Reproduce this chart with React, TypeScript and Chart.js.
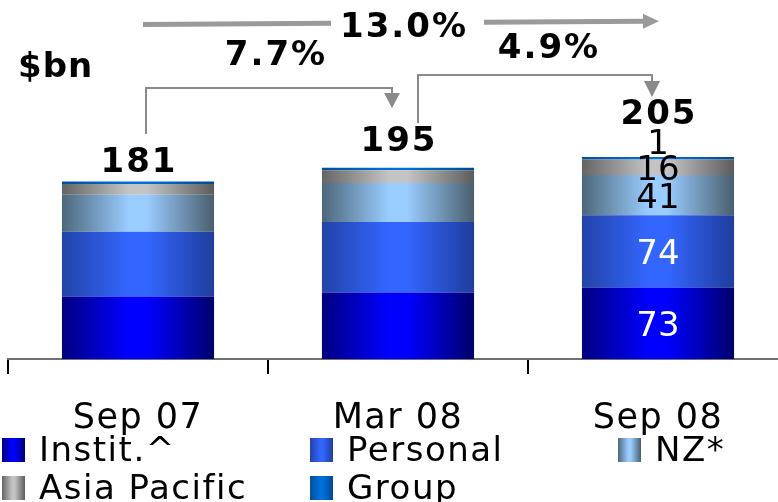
import { useEffect, useRef } from "react";
import { Chart, registerables } from "chart.js";

Chart.register(...registerables);

// Lending by division, $bn
const categories = ["Sep 07", "Mar 08", "Sep 08"];
const seriesNames = ["Instit.^", "Personal", "NZ*", "Asia Pacific", "Group"];
const instit = [64, 68, 73];
const personal = [66, 72, 74];
const nz = [38, 40, 41];
const asiaPacific = [11, 13, 16];
const group = [2, 2, 1];
const totals = [181, 195, 205];
const growthOverall = "13.0%";
const growthFirstHalf = "7.7%";
const growthSecondHalf = "4.9%";
const unitLabel = "$bn";
const labelledBar = 2;

// left edge, centre highlight, right edge of each cylinder-shaded fill
const shades: string[][] = [
  ["#000080", "#0000ff", "#00006c"],
  ["#2243a8", "#3366ff", "#1f3d9c"],
  ["#4d677a", "#99ccff", "#4a5e6e"],
  ["#646464", "#c4c4c4", "#5c5c5c"],
  ["#004f9e", "#0070d8", "#004a94"],
];
const segmentTextColors = ["#ffffff", "#ffffff", "#000000", "#000000", "#000000"];

const BAR_PCT = 0.585;
const FONT = '"DejaVu Sans", Verdana, sans-serif';

function paint(ctx: CanvasRenderingContext2D, x0: number, x1: number, s: string[]) {
  const g = ctx.createLinearGradient(x0, 0, x1, 0);
  g.addColorStop(0, s[0]);
  g.addColorStop(0.44, s[1]);
  g.addColorStop(0.56, s[1]);
  g.addColorStop(1, s[2]);
  return g;
}

function cylinder(s: string[]) {
  return (c: any) => {
    const chart = c.chart;
    const xs = chart.scales?.x;
    if (!xs || c.dataIndex === undefined) return s[1];
    const cx = xs.getPixelForValue(c.dataIndex);
    const half = ((xs.width / categories.length) * BAR_PCT) / 2;
    if (!Number.isFinite(cx) || !Number.isFinite(half) || half <= 0) return s[1];
    return paint(chart.ctx, cx - half, cx + half, s);
  };
}

function arrowHeadDown(ctx: CanvasRenderingContext2D, x: number, yBase: number, yTip: number, half: number) {
  ctx.beginPath();
  ctx.moveTo(x - half, yBase);
  ctx.lineTo(x + half, yBase);
  ctx.lineTo(x, yTip);
  ctx.closePath();
  ctx.fill();
}

const decorations = {
  id: "decorations",
  beforeDraw(chart: any) {
    chart.ctx.letterSpacing = "1.5px";
  },
  afterDraw(chart: any) {
    const ctx: CanvasRenderingContext2D = chart.ctx;
    const xs = chart.scales.x;
    const ys = chart.scales.y;
    const cx = categories.map((_, i) => xs.getPixelForValue(i));
    ctx.save();

    // stacked totals
    const lift = [10, 17, 34];
    ctx.font = `bold 34px ${FONT}`;
    ctx.letterSpacing = "2px";
    ctx.fillStyle = "#000";
    ctx.textAlign = "center";
    ctx.textBaseline = "alphabetic";
    totals.forEach((t, i) => {
      ctx.fillText(String(t), cx[i] + 1, ys.getPixelForValue(t) - lift[i]);
    });

    // segment values on the latest bar
    ctx.font = `34px ${FONT}`;
    ctx.letterSpacing = "0px";
    chart.data.datasets.forEach((ds: any, d: number) => {
      const el = chart.getDatasetMeta(d).data[labelledBar];
      const h = el.base - el.y;
      const y = h >= 14 ? (el.y + el.base) / 2 + 13 : el.y - 2.5;
      ctx.fillStyle = segmentTextColors[d];
      ctx.fillText(String(ds.data[labelledBar]), cx[labelledBar], y);
    });

    // unit
    ctx.font = `bold 34px ${FONT}`;
    ctx.letterSpacing = "1px";
    ctx.fillStyle = "#000";
    ctx.textAlign = "left";
    ctx.fillText(unitLabel, 18, 77);

    // growth brackets
    ctx.strokeStyle = "#8a8a8a";
    ctx.fillStyle = "#8a8a8a";
    ctx.lineWidth = 2;
    const b1L = cx[0] + 8, b1R = cx[1] - 6;
    ctx.beginPath();
    ctx.moveTo(b1L, 134);
    ctx.lineTo(b1L, 88);
    ctx.lineTo(b1R, 88);
    ctx.lineTo(b1R, 94);
    ctx.stroke();
    arrowHeadDown(ctx, b1R, 93, 108, 8);

    const b2L = cx[1] + 20, b2R = cx[2] - 6;
    ctx.beginPath();
    ctx.moveTo(b2L, 123);
    ctx.lineTo(b2L, 75);
    ctx.lineTo(b2R, 75);
    ctx.lineTo(b2R, 82);
    ctx.stroke();
    arrowHeadDown(ctx, b2R, 81, 97, 8);

    // overall arrow, broken around its label
    ctx.strokeStyle = "#9a9a9a";
    ctx.fillStyle = "#9a9a9a";
    ctx.lineWidth = 5;
    const aL = cx[0] + 5, aTip = cx[2] + 1;
    const yAt = (x: number) => 24.4 - ((x - aL) / (aTip - aL)) * 3.2;
    const gapL = cx[1] - 67, gapR = cx[1] + 86;
    ctx.beginPath();
    ctx.moveTo(aL, yAt(aL));
    ctx.lineTo(gapL, yAt(gapL));
    ctx.moveTo(gapR, yAt(gapR));
    ctx.lineTo(aTip - 15, yAt(aTip - 15));
    ctx.stroke();
    ctx.beginPath();
    ctx.moveTo(aTip - 16, yAt(aTip) - 7.5);
    ctx.lineTo(aTip, yAt(aTip));
    ctx.lineTo(aTip - 16, yAt(aTip) + 7.5);
    ctx.closePath();
    ctx.fill();

    ctx.font = `bold 34px ${FONT}`;
    ctx.letterSpacing = "2px";
    ctx.fillStyle = "#000";
    ctx.textAlign = "center";
    ctx.fillText(growthOverall, cx[1] + 6, 37);
    ctx.fillText(growthFirstHalf, (b1L + b1R) / 2 + 7, 65);
    ctx.fillText(growthSecondHalf, (b2L + b2R) / 2 + 14, 58);

    // legend in three columns
    ctx.font = `34px ${FONT}`;
    ctx.letterSpacing = "1.5px";
    ctx.textAlign = "left";
    chart.data.datasets.forEach((ds: any, d: number) => {
      const col = d % 3;
      const row = Math.floor(d / 3);
      const sx = 2 + col * 308;
      const sy = row === 0 ? 438 : 476;
      ctx.fillStyle = paint(ctx, sx, sx + 23, shades[d]);
      ctx.fillRect(sx, sy, 23, 24);
      ctx.fillStyle = "#000";
      ctx.fillText(ds.label, sx + 37, sy + 23);
    });

    ctx.restore();
  },
};

const seriesValues = [instit, personal, nz, asiaPacific, group];

export default function App() {
  const ref = useRef<HTMLCanvasElement>(null);

  useEffect(() => {
    const chart = new Chart(ref.current!, {
      type: "bar",
      data: {
        labels: categories,
        datasets: seriesValues.map((vals, d) => ({
          label: seriesNames[d],
          data: vals,
          backgroundColor: cylinder(shades[d]),
          borderWidth: 0,
          categoryPercentage: 1,
          barPercentage: BAR_PCT,
          minBarLength: d === 4 ? 2.5 : 0,
        })),
      },
      options: {
        animation: false,
        responsive: false,
        devicePixelRatio: 1,
        layout: { padding: { left: 8, right: 2, top: 134, bottom: 38 } },
        plugins: {
          legend: { display: false },
          tooltip: { enabled: false },
        },
        scales: {
          x: {
            stacked: true,
            grid: {
              display: true,
              drawOnChartArea: false,
              drawTicks: true,
              tickLength: 15,
              color: "#000",
              lineWidth: 2,
              offset: true,
            },
            border: { display: true, color: "#707070", width: 2 },
            ticks: {
              color: "#000",
              font: { family: FONT, size: 35 },
              padding: 24,
              maxRotation: 0,
              autoSkip: false,
            },
          },
          y: { stacked: true, display: false, min: 0, max: 230 },
        },
      },
      plugins: [decorations],
    });
    return () => chart.destroy();
  }, []);

  return (
    <div
      style={{
        position: "fixed",
        left: 0,
        top: 0,
        width: 778,
        height: 502,
        overflow: "hidden",
        background: "#fff",
      }}
    >
      <canvas ref={ref} width={790} height={502} style={{ display: "block" }} />
    </div>
  );
}
